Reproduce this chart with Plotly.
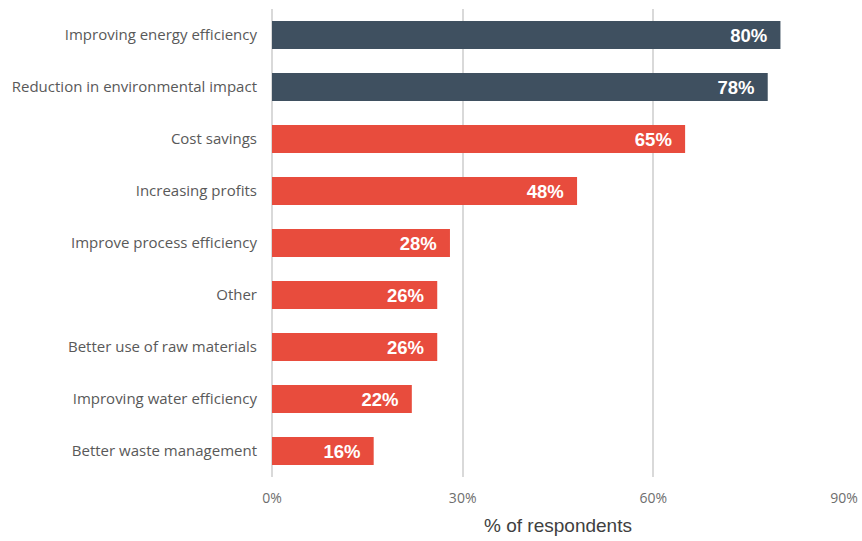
import plotly.graph_objects as go

# Survey responses, listed top to bottom
categories = [
    "Improving energy efficiency",
    "Reduction in environmental impact",
    "Cost savings",
    "Increasing profits",
    "Improve process efficiency",
    "Other",
    "Better use of raw materials",
    "Improving water efficiency",
    "Better waste management",
]
values = [80, 78, 65, 48, 28, 26, 26, 22, 16]
highlight = [True, True, False, False, False, False, False, False, False]
x_ticks = [0, 30, 60, 90]
x_tick_labels = ["0%", "30%", "60%", "90%"]

DARK = "#3F5060"
RED = "#E84C3D"
colors = [DARK if h else RED for h in highlight]

fig = go.Figure(
    go.Bar(
        x=values,
        y=categories,
        orientation="h",
        marker=dict(color=colors, line=dict(width=0)),
        text=[f"{v}%" for v in values],
        texttemplate="%{text}\u00a0\u00a0",
        textposition="inside",
        insidetextanchor="end",
        textangle=0,
        insidetextfont=dict(family="Liberation Sans", size=18.5, color="white", weight="bold"),
        hoverinfo="skip",
    )
)

fig.update_layout(
    width=862,
    height=541,
    margin=dict(l=272, r=18, t=9, b=64),
    paper_bgcolor="white",
    plot_bgcolor="white",
    bargap=0.46,
    showlegend=False,
    uniformtext=dict(minsize=18, mode="show"),
)

fig.update_xaxes(
    range=[0, 90],
    tickvals=x_ticks,
    ticktext=x_tick_labels,
    automargin=False,
    showgrid=True,
    gridcolor="#D9D9D9",
    gridwidth=1.5,
    zeroline=True,
    zerolinecolor="#D9D9D9",
    zerolinewidth=1.5,
    showline=False,
    ticks="",
    ticklabelstandoff=11,
    tickfont=dict(family="Open Sans", size=14, color="#6E6E6E"),
    title=dict(
        text="% of respondents",
        font=dict(family="Liberation Sans", size=19, color="#404040"),
        standoff=12,
    ),
    fixedrange=True,
)

fig.update_yaxes(
    categoryorder="array",
    categoryarray=categories[::-1],
    automargin=False,
    showgrid=False,
    showline=False,
    ticks="",
    ticklabelstandoff=14,
    tickfont=dict(family="Open Sans", size=15, color="#595959"),
    fixedrange=True,
)

fig.write_html("out.html")
